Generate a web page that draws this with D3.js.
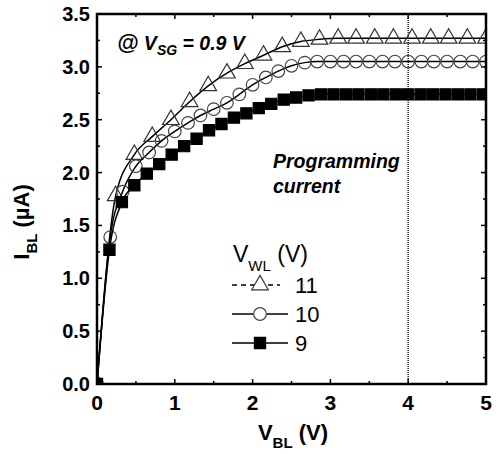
<!DOCTYPE html>
<html>
  <head>
  <title>IBL vs VBL</title>
  <style>
    body, html {
      margin: 0;
      padding: 0;
      background: #fff;
    }
    text {
      font-family: "Liberation Sans", Arial, sans-serif;
    }
  </style>
  </head>
  <body>

  <svg id="svg" width="502" height="454"></svg>
  <script src="https://d3js.org/d3.v7.min.js"></script>
  <script>
      // V_WL = 11 V (triangles)
      const triX = [0, 0.24, 0.48, 0.71, 0.95, 1.19, 1.43, 1.67, 1.9, 2.14, 2.38, 2.62, 2.86,
                    3.1, 3.33, 3.57, 3.81, 4.05, 4.29, 4.52, 4.76, 5.0]
      const triY = [0, 1.78, 2.17, 2.34, 2.50, 2.67, 2.82, 2.94, 3.03, 3.11, 3.19, 3.24, 3.26,
                    3.27, 3.27, 3.27, 3.27, 3.27, 3.27, 3.27, 3.27, 3.27]
      // V_WL = 10 V (circles)
      const cirX = [0, 0.17, 0.33, 0.5, 0.67, 0.83, 1.0, 1.17, 1.33, 1.5, 1.67, 1.83, 2.0, 2.17,
                    2.33, 2.5, 2.67, 2.83, 3.0, 3.17, 3.33, 3.5, 3.67, 3.83, 4.0, 4.17, 4.33,
                    4.5, 4.67, 4.83, 5.0]
      const cirY = [0, 1.39, 1.82, 2.06, 2.19, 2.30, 2.39, 2.47, 2.54, 2.60, 2.66, 2.74, 2.83, 2.90,
                    2.96, 3.01, 3.04, 3.05, 3.05, 3.05, 3.05, 3.05, 3.05, 3.05, 3.05, 3.05, 3.05,
                    3.05, 3.05, 3.05, 3.05]
      // V_WL = 9 V (squares)
      const sqX = [0, 0.16, 0.32, 0.48, 0.64, 0.8, 0.96, 1.12, 1.28, 1.44, 1.6, 1.76, 1.92, 2.08,
                   2.24, 2.4, 2.56, 2.72, 2.88, 3.04, 3.2, 3.36, 3.52, 3.68, 3.84, 4.0, 4.16,
                   4.32, 4.48, 4.64, 4.8, 4.96]
      const sqY = [0, 1.27, 1.72, 1.88, 1.99, 2.08, 2.17, 2.25, 2.32, 2.40, 2.46, 2.52, 2.56, 2.61,
                   2.65, 2.69, 2.71, 2.73, 2.74, 2.74, 2.74, 2.74, 2.74, 2.74, 2.74, 2.74, 2.74,
                   2.74, 2.74, 2.74, 2.74, 2.74]

      const xTicks = [0, 1, 2, 3, 4, 5]
      const yTicks = [0, 0.5, 1.0, 1.5, 2.0, 2.5, 3.0, 3.5]
      const legendLabels = ['11', '10', '9']
      const progV = 4

      const svg = d3.select('#svg')
      const pL = 97, pR = 486, pT = 14, pB = 384

      const x = d3.scaleLinear().domain([0, 5]).range([pL, pR])
      const y = d3.scaleLinear().domain([0, 3.5]).range([pB, pT])

      svg.append('defs').append('clipPath').attr('id', 'clip')
          .append('rect')
          .attr('x', pL).attr('y', pT)
          .attr('width', pR - pL).attr('height', pB - pT)

      // ticks, all pointing inward, on all four sides
      const xMinor = d3.range(0, 5.01, 0.5)
      const yMinor = d3.range(0, 3.51, 0.25)
      const tickG = svg.append('g').attr('stroke', '#000').attr('stroke-width', 1.5)
      xMinor.forEach(v => {
          const len = Number.isInteger(v) ? 5 : 3
          tickG.append('line').attr('x1', x(v)).attr('x2', x(v)).attr('y1', pB).attr('y2', pB - len)
          tickG.append('line').attr('x1', x(v)).attr('x2', x(v)).attr('y1', pT).attr('y2', pT + len)
      })
      yMinor.forEach(v => {
          const len = Math.abs(v * 2 - Math.round(v * 2)) < 1e-6 ? 5 : 3
          tickG.append('line').attr('x1', pL).attr('x2', pL + len).attr('y1', y(v)).attr('y2', y(v))
          tickG.append('line').attr('x1', pR).attr('x2', pR - len).attr('y1', y(v)).attr('y2', y(v))
      })

      // programming current line
      svg.append('line')
          .attr('x1', x(progV)).attr('x2', x(progV))
          .attr('y1', pT).attr('y2', pB)
          .attr('stroke', '#222').attr('stroke-width', 1.5)
          .attr('stroke-dasharray', '1,1')

      const plot = svg.append('g').attr('clip-path', 'url(#clip)')
      const line = d3.line().x(d => x(d[0])).y(d => y(d[1])).curve(d3.curveMonotoneX)

      const series = [
          { xs: triX, ys: triY, sym: d3.symbolTriangle, size: 120, fill: 'none', stroke: '#333' },
          { xs: cirX, ys: cirY, sym: d3.symbolCircle, size: 125, fill: 'none', stroke: '#444' },
          { xs: sqX, ys: sqY, sym: d3.symbolSquare, size: 125, fill: '#000', stroke: '#000' }
      ]

      series.forEach(s => {
          const pts = s.xs.map((v, i) => [v, s.ys[i]])
          plot.append('path')
              .attr('d', line(pts))
              .attr('fill', 'none')
              .attr('stroke', '#000')
              .attr('stroke-width', 1.5)
          plot.selectAll(null)
              .data(pts)
              .join('path')
              .attr('transform', d => `translate(${x(d[0])},${y(d[1])})`)
              .attr('d', d3.symbol().type(s.sym).size(s.size))
              .attr('fill', s.fill)
              .attr('stroke', s.stroke)
              .attr('stroke-width', 1.2)
      })

      // frame
      svg.append('rect')
          .attr('x', pL).attr('y', pT)
          .attr('width', pR - pL).attr('height', pB - pT)
          .attr('fill', 'none').attr('stroke', '#000').attr('stroke-width', 2.5)

      // tick labels
      svg.append('g').selectAll('text')
          .data(xTicks)
          .join('text')
          .attr('x', d => x(d))
          .attr('y', 410)
          .attr('text-anchor', 'middle')
          .attr('font-size', 21)
          .attr('font-weight', 'bold')
          .text(d => d)

      svg.append('g').selectAll('text')
          .data(yTicks)
          .join('text')
          .attr('x', 90)
          .attr('y', d => y(d) + 7)
          .attr('text-anchor', 'end')
          .attr('font-size', 20)
          .attr('font-weight', 'bold')
          .text(d => d.toFixed(1))

      // axis titles
      const xt = svg.append('text')
          .attr('x', 293).attr('y', 440)
          .attr('text-anchor', 'middle')
          .attr('font-size', 22)
          .attr('font-weight', 'bold')
      xt.append('tspan').text('V')
      xt.append('tspan').attr('font-size', 15).attr('dy', 8).text('BL')
      xt.append('tspan').attr('dy', -8).text(' (V)')

      const yt = svg.append('text')
          .attr('transform', 'translate(29,222) rotate(-90)')
          .attr('text-anchor', 'middle')
          .attr('font-size', 22)
          .attr('font-weight', 'bold')
      yt.append('tspan').text('I')
      yt.append('tspan').attr('font-size', 15).attr('dy', 8).text('BL')
      yt.append('tspan').attr('dy', -8).text(' (\u00B5A)')

      // annotations
      const vsg = svg.append('text')
          .attr('x', 117).attr('y', 50)
          .attr('font-size', 19.5)
          .attr('font-weight', 'bold')
          .attr('font-style', 'italic')
      vsg.append('tspan').attr('font-size', 22).text('@')
      vsg.append('tspan').text(' V')
      vsg.append('tspan').attr('font-size', 14).attr('dy', 5).text('SG')
      vsg.append('tspan').attr('dy', -5).text(' = 0.9 V')

      svg.append('text')
          .attr('x', 273).attr('y', 168)
          .attr('font-size', 19.5)
          .attr('font-weight', 'bold')
          .attr('font-style', 'italic')
          .text('Programming')
      svg.append('text')
          .attr('x', 273).attr('y', 193)
          .attr('font-size', 19.5)
          .attr('font-weight', 'bold')
          .attr('font-style', 'italic')
          .text('current')

      // legend
      const lt = svg.append('text')
          .attr('x', 233).attr('y', 262)
          .attr('font-size', 23)
      lt.append('tspan').text('V')
      lt.append('tspan').attr('font-size', 15).attr('dy', 9).text('WL')
      lt.append('tspan').attr('dy', -9).text(' (V)')

      const rowY = [285, 314, 343]
      series.forEach((s, i) => {
          const g = svg.append('g')
          g.append('line')
              .attr('x1', 232).attr('x2', i === 0 ? 280 : 288)
              .attr('y1', rowY[i]).attr('y2', rowY[i])
              .attr('stroke', '#000').attr('stroke-width', 1.5)
              .attr('stroke-dasharray', i === 0 ? '5,4' : null)
          g.append('path')
              .attr('transform', `translate(260,${rowY[i]})`)
              .attr('d', d3.symbol().type(s.sym).size(s.size))
              .attr('fill', s.fill === 'none' ? '#fff' : s.fill)
              .attr('stroke', s.stroke)
              .attr('stroke-width', 1.2)
          g.append('text')
              .attr('x', 295).attr('y', rowY[i] + 8)
              .attr('font-size', 22)
              .text(legendLabels[i])
      })
  </script>
</body>
</html>
